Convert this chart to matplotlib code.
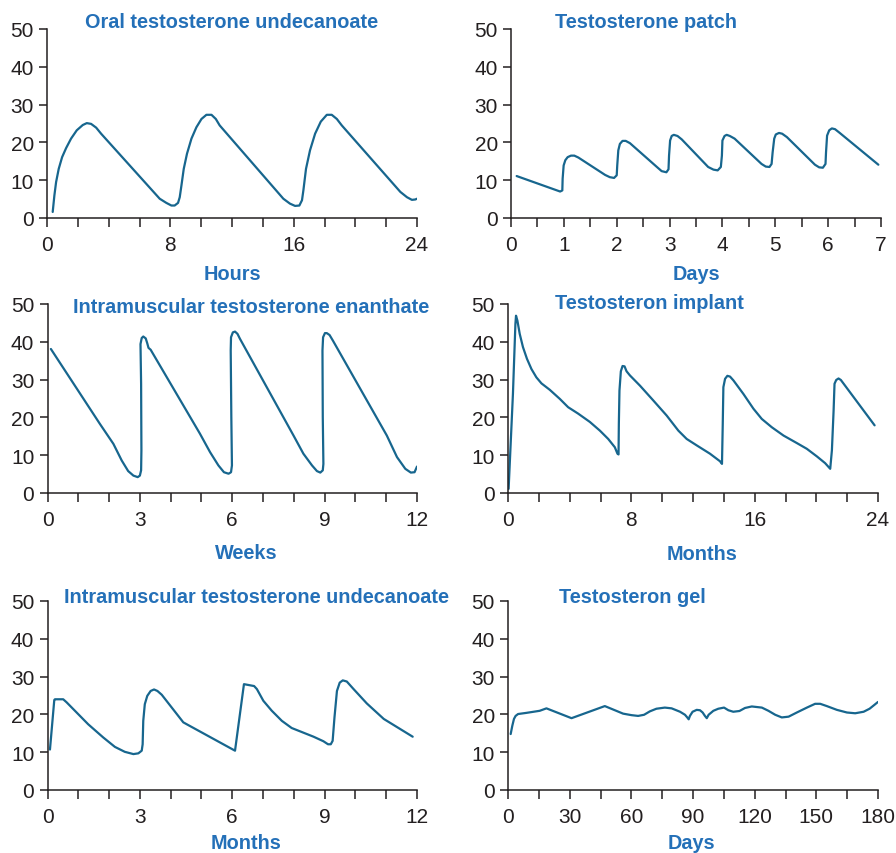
import matplotlib
matplotlib.use('Agg')
import matplotlib.pyplot as plt

W, H = 896, 854
LINE = '#17668e'
BLUE = '#2470b8'
TXT = '#231f20'

plt.rcParams['font.family'] = ['Liberation Sans', 'DejaVu Sans']

# --- Oral testosterone undecanoate (hours) ---
oral_x = [0.37, 0.48, 0.59, 0.76, 0.98, 1.24, 1.56, 1.93, 2.32, 2.58, 2.86, 3.19, 3.51,
          7.31, 7.74, 8.07, 8.28, 8.5, 8.61, 8.72, 8.87, 9.08, 9.37, 9.69, 10.02, 10.34,
          10.67, 10.95, 11.2, 15.33, 15.76, 16.09, 16.37, 16.54, 16.63, 16.8, 17.06, 17.39,
          17.76, 18.15, 18.47, 18.8, 19.12, 22.92, 23.35, 23.67, 23.89, 24.0]
oral_y = [1.6, 6.0, 9.5, 13.0, 16.1, 18.5, 21.0, 23.2, 24.6, 25.1, 24.9, 23.9, 22.3,
          5.1, 4.0, 3.3, 3.3, 4.0, 5.5, 8.6, 13.0, 17.0, 21.0, 24.0, 26.2, 27.3,
          27.3, 26.2, 24.5, 5.1, 3.8, 3.2, 3.3, 4.7, 7.3, 13.0, 17.9, 22.3,
          25.5, 27.3, 27.3, 26.2, 24.5, 6.9, 5.5, 4.8, 4.9, 5.1]

# --- Testosterone patch (days) ---
patch_x = [0.107, 0.93, 0.971, 0.977, 0.996, 1.028, 1.072, 1.135, 1.198, 1.274,
           1.78, 1.87, 1.95, 2.0, 2.01, 2.03, 2.06, 2.11, 2.17, 2.25,
           2.76, 2.85, 2.94, 2.98, 2.99, 3.01, 3.04, 3.08, 3.15, 3.23,
           3.73, 3.83, 3.91, 3.97, 3.99, 4.0, 4.04, 4.08, 4.14, 4.23,
           4.74, 4.82, 4.89, 4.93, 4.95, 4.98, 5.01, 5.07, 5.13, 5.22,
           5.75, 5.83, 5.9, 5.95, 5.96, 5.98, 6.02, 6.07, 6.13, 6.22, 6.95]
patch_y = [11.1, 7.0, 7.3, 10.4, 13.9, 15.3, 16.1, 16.5, 16.5, 16.0,
           11.4, 10.8, 10.6, 11.3, 13.9, 17.9, 19.6, 20.4, 20.4, 19.8,
           13.5, 12.4, 12.1, 12.9, 16.5, 20.5, 21.7, 22.0, 21.7, 20.8,
           13.5, 12.8, 12.6, 13.5, 16.5, 20.5, 21.7, 22.0, 21.7, 21.0,
           14.3, 13.6, 13.5, 14.3, 17.4, 21.0, 22.1, 22.5, 22.3, 21.4,
           14.1, 13.4, 13.3, 14.3, 17.4, 21.8, 23.2, 23.7, 23.5, 22.5, 14.1]

# --- Intramuscular testosterone enanthate (weeks) ---
ena_x = [0.11, 1.70, 2.14, 2.41, 2.62, 2.79, 2.93, 3.0, 3.04, 3.05, 3.04, 3.02, 3.06, 3.11,
         3.19, 3.24, 3.28, 3.35, 4.95, 5.28, 5.55, 5.73, 5.88, 5.96, 5.99, 5.97, 5.95, 5.96,
         6.02, 6.09, 6.17, 6.25, 7.99, 8.31, 8.59, 8.75, 8.86, 8.94, 8.96, 8.94, 8.93, 8.95,
         9.01, 9.07, 9.16, 9.27, 11.02, 11.35, 11.62, 11.8, 11.92, 12.0]
ena_y = [38.1, 18.3, 13.0, 8.6, 5.8, 4.6, 4.2, 4.6, 6.0, 11.3, 28.9, 39.4, 41.0, 41.4,
         40.9, 39.6, 38.4, 37.9, 15.7, 10.8, 7.3, 5.5, 5.1, 5.5, 7.3, 20.1, 37.7, 41.2,
         42.5, 42.7, 42.1, 40.8, 15.2, 10.4, 7.3, 5.8, 5.4, 6.0, 7.7, 20.1, 37.7, 41.2,
         42.3, 42.3, 41.8, 40.3, 15.2, 9.5, 6.4, 5.4, 5.5, 7.0]

# --- Testosteron implant (months) ---
imp_x = [0.04, 0.32, 0.48, 0.52, 0.61, 0.76, 0.97, 1.23, 1.52, 1.84, 2.17, 2.71, 3.36, 3.9,
         4.55, 5.31, 5.96, 6.5, 6.93, 7.1, 7.17, 7.19, 7.23, 7.32, 7.43, 7.56, 7.69, 7.91,
         8.56, 9.42, 10.29, 11.05, 11.59, 12.24, 13.1, 13.75, 13.88, 13.93, 13.97, 14.08,
         14.23, 14.4, 14.62, 15.27, 15.92, 16.46, 17.11, 17.87, 18.74, 19.38, 20.03, 20.57,
         20.9, 21.01, 21.12, 21.18, 21.29, 21.44, 21.59, 21.81, 23.78]
imp_y = [1.1, 26.2, 44.7, 46.9, 45.6, 42.1, 38.6, 35.5, 32.8, 30.6, 29.0, 27.3, 24.9, 22.7,
         21.0, 18.8, 16.5, 14.3, 12.1, 10.4, 10.2, 18.3, 27.1, 32.2, 33.6, 33.5, 32.2, 31.1,
         28.4, 24.5, 20.5, 16.5, 14.3, 12.6, 10.4, 8.4, 7.7, 18.3, 28.0, 30.2,
         31.0, 30.8, 29.8, 26.2, 22.3, 19.6, 17.4, 15.2, 13.2, 11.7, 9.7, 7.9,
         6.4, 11.3, 21.8, 28.9, 29.9, 30.3, 29.9, 28.7, 17.9]

# --- Intramuscular testosterone undecanoate (months) ---
und_x = [0.08, 0.22, 0.24, 0.51, 0.62, 1.32, 1.81, 2.19, 2.51, 2.79, 2.95, 3.06, 3.09, 3.11,
         3.16, 3.24, 3.35, 3.46, 3.57, 3.71, 4.41, 4.52, 6.09, 6.38, 6.71, 6.8, 7.01, 7.28,
         7.61, 7.93, 8.64, 8.96, 9.11, 9.2, 9.26, 9.32, 9.4, 9.49, 9.59, 9.72, 9.94, 10.37,
         10.92, 11.86]
und_y = [10.7, 23.8, 24.0, 24.0, 23.2, 17.4, 13.9, 11.4, 10.1, 9.5, 9.7, 10.4, 12.1, 18.3,
         22.7, 24.9, 26.2, 26.6, 26.2, 25.2, 17.9, 17.4, 10.4, 28.0, 27.5, 26.7, 23.6, 21.0,
         18.3, 16.4, 14.1, 12.9, 12.1, 12.1, 13.0, 19.2, 26.2, 28.4, 29.0, 28.7, 26.7, 22.9,
         18.8, 14.1]

# --- Testosteron gel (days) ---
gel_x = [1.3, 2.1, 2.9, 3.7, 4.9, 8.9, 15.4, 18.7, 30.9, 47.1, 56.0, 60.1, 63.3, 66.2, 69.0,
         72.2, 76.3, 79.6, 83.7, 86.1, 87.2, 87.9, 88.5, 89.8, 91.8, 93.4, 94.7, 95.8, 96.7,
         97.6, 99.9, 102.3, 105.1, 107.2, 109.6, 112.6, 115.3, 118.6, 123.5, 126.7, 130.0,
         133.2, 136.5, 140.5, 145.4, 149.4, 151.9, 155.1, 160.0, 164.9, 168.9, 173.0, 175.9,
         178.2, 180.0]
gel_y = [14.8, 17.0, 18.8, 19.6, 20.1, 20.4, 20.95, 21.6, 19.0, 22.2, 20.2, 19.8, 19.6, 19.9,
         20.8, 21.5, 21.8, 21.6, 20.7, 19.9, 19.2, 18.7, 19.6, 20.7, 21.2, 21.1, 20.5, 19.6,
         19.0, 19.9, 20.95, 21.5, 21.8, 21.1, 20.7, 20.9, 21.7, 22.1, 21.8, 20.95, 19.9,
         19.2, 19.4, 20.5, 21.8, 22.8, 22.8, 22.2, 21.2, 20.5, 20.3, 20.7, 21.5,
         22.5, 23.3]

y_ticks = [0, 10, 20, 30, 40, 50]

# (x, y, xmax, labelled ticks, minor step, axes box px, title, title xy px, xlabel, xlabel xy px)
panels = [
    (oral_x, oral_y, 24, [0, 8, 16, 24], 2, (47, 30, 417, 219),
     'Oral testosterone undecanoate', (232, 28), 'Hours', (232, 280)),
    (patch_x, patch_y, 7, [0, 1, 2, 3, 4, 5, 6, 7], 0.5, (511, 30, 881, 219),
     'Testosterone patch', (646, 28), 'Days', (696, 280)),
    (ena_x, ena_y, 12, [0, 3, 6, 9, 12], 1, (47.5, 305, 417, 494),
     'Intramuscular testosterone enanthate', (251, 313), 'Weeks', (246, 559)),
    (imp_x, imp_y, 24, [0, 8, 16, 24], 2, (508, 305, 878, 494),
     'Testosteron implant', (649, 309), 'Months', (702, 560)),
    (und_x, und_y, 12, [0, 3, 6, 9, 12], 1, (47.5, 602, 417, 791),
     'Intramuscular testosterone undecanoate', (256, 603), 'Months', (246, 849)),
    (gel_x, gel_y, 180, [0, 30, 60, 90, 120, 150, 180], 15, (508, 602, 878, 791),
     'Testosteron gel', (632, 603), 'Days', (691, 849)),
]

fig = plt.figure(figsize=(W / 100, H / 100), dpi=100)

for xs, ys, xmax, majors, step, box, title, tpos, xlabel, lpos in panels:
    l, t, r, b = box
    ax = fig.add_axes([l / W, 1 - b / H, (r - l) / W, (b - t) / H])
    ax.plot(xs, ys, color=LINE, lw=1.6, solid_joinstyle='round', solid_capstyle='round')
    ax.set_xlim(0, xmax)
    ax.set_ylim(0, 50)
    ax.set_xticks(majors)
    n = int(round(xmax / step))
    ax.set_xticks([i * step for i in range(n + 1)], minor=True)
    ax.set_yticks(y_ticks)
    for s in ['top', 'right']:
        ax.spines[s].set_visible(False)
    for s in ['left', 'bottom']:
        ax.spines[s].set_linewidth(1.1)
        ax.spines[s].set_color(TXT)
    ax.tick_params(axis='x', which='both', length=6.5, width=1.1, color=TXT,
                   labelsize=15, labelcolor=TXT, pad=6)
    ax.tick_params(axis='y', length=6, width=1.1, color=TXT,
                   labelsize=15, labelcolor=TXT, pad=3.5)
    ax.patch.set_alpha(0)
    fig.text(tpos[0] / W, 1 - tpos[1] / H, title, color=BLUE, fontsize=14.3,
             fontweight='bold', ha='center', va='baseline')
    fig.text(lpos[0] / W, 1 - lpos[1] / H, xlabel, color=BLUE, fontsize=14.3,
             fontweight='bold', ha='center', va='baseline')

fig.savefig('out.png', dpi=100)
